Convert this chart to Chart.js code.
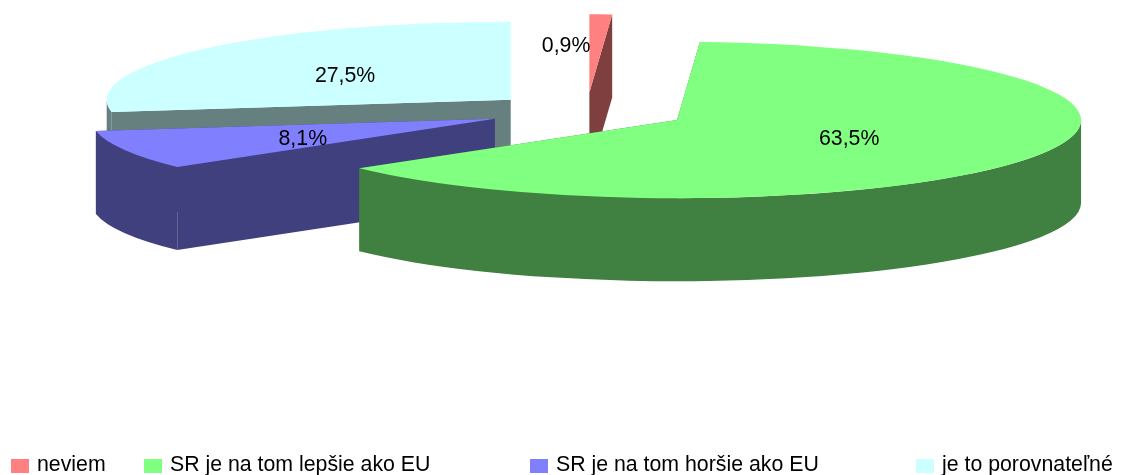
<!DOCTYPE html>
<html><head><meta charset="utf-8">
<style>html,body{margin:0;padding:0;background:#fff}#w{width:1122px;height:475px}canvas{display:block}</style>
<script src="https://cdn.jsdelivr.net/npm/chart.js@4"></script></head>
<body><div id="w"><canvas id="c" width="1122" height="475"></canvas></div>
<script>
const categories = ['neviem', 'SR je na tom lepšie ako EU', 'SR je na tom horšie ako EU', 'je to porovnateľné'];
const shares = [0.9, 63.5, 8.1, 27.5];
const topColors = ['#ff8080', '#80ff80', '#8080ff', '#ccffff'];
const sideColors = ['#803f3f', '#408040', '#40407f', '#668080'];

const RADIUS = 404, EXPLODE = 101, SQUASH = 0.1935, DEPTH = 83;
const FONT = '21.3px "Liberation Sans", Arial, sans-serif';
const paintOrder = [3, 0, 2, 1];
const sliceNudge = [[-1, 1], [0, 0], [0, 0], [0, 1.5]];
const labelNudge = [[-29, -7], [-7, 1], [-7, 5], [-12, 1.5]];
const legendX = [11, 144, 530, 916];

const pie3d = {
  id: 'pie3d',
  afterDatasetsUpdate(chart) {
    const arcs = chart.getDatasetMeta(0).data;
    arcs.forEach((a, i) => {
      const mid = (a.startAngle + a.endAngle) / 2;
      a.x += Math.cos(mid) * EXPLODE + sliceNudge[i][0];
      a.y += Math.sin(mid) * EXPLODE + sliceNudge[i][1] / SQUASH;
    });
  },
  beforeDatasetDraw(chart) {
    const ctx = chart.ctx, area = chart.chartArea;
    const cy = (area.top + area.bottom) / 2;
    chart.$cy = cy;
    ctx.save();
    ctx.translate(0, cy); ctx.scale(1, SQUASH); ctx.translate(0, -cy);
    const d = DEPTH / SQUASH;
    const arcs = chart.getDatasetMeta(0).data;
    paintOrder.forEach(i => {
      const a = arcs[i], r = a.outerRadius;
      ctx.fillStyle = sideColors[i];
      // only the front half of the rim (0..PI on the canvas) can be seen
      const from = Math.max(a.startAngle, 0), to = Math.min(a.endAngle, Math.PI);
      if (to > from) {
        ctx.beginPath();
        ctx.arc(a.x, a.y, r, from, to);
        ctx.arc(a.x, a.y + d, r, to, from, true);
        ctx.closePath();
        ctx.fill();
      }
      [a.startAngle, a.endAngle].forEach(t => {
        ctx.beginPath();
        ctx.moveTo(a.x, a.y);
        ctx.lineTo(a.x + Math.cos(t) * r, a.y + Math.sin(t) * r);
        ctx.lineTo(a.x + Math.cos(t) * r, a.y + Math.sin(t) * r + d);
        ctx.lineTo(a.x, a.y + d);
        ctx.closePath(); ctx.fill();
      });
    });
  },
  afterDatasetDraw(chart) {
    const ctx = chart.ctx;
    ctx.restore();
    const cy = chart.$cy;
    const arcs = chart.getDatasetMeta(0).data;
    ctx.font = FONT; ctx.fillStyle = '#000';
    ctx.textAlign = 'center'; ctx.textBaseline = 'middle';
    arcs.forEach((a, i) => {
      const mid = (a.startAngle + a.endAngle) / 2, r = a.outerRadius * 0.5;
      const x = a.x + Math.cos(mid) * r + labelNudge[i][0];
      const y = cy + (a.y + Math.sin(mid) * r - cy) * SQUASH + labelNudge[i][1];
      ctx.fillText(shares[i].toFixed(1).replace('.', ',') + '%', x, y);
    });
    ctx.textAlign = 'left';
    categories.forEach((c, i) => {
      ctx.fillStyle = topColors[i];
      ctx.fillRect(legendX[i], 459, 18, 14);
      ctx.fillStyle = '#000';
      ctx.fillText(c, legendX[i] + 26, 465);
    });
  }
};

new Chart(document.getElementById('c'), {
  type: 'pie',
  data: { labels: categories, datasets: [{ data: shares, backgroundColor: topColors, borderWidth: 0, clip: false, radius: RADIUS }] },
  options: {
    responsive: false, animation: false,
    layout: { padding: { left: 53, bottom: 253, right: 0, top: 0 } },
    plugins: { legend: { display: false }, tooltip: { enabled: false } }
  },
  plugins: [pie3d]
});
</script></body></html>
